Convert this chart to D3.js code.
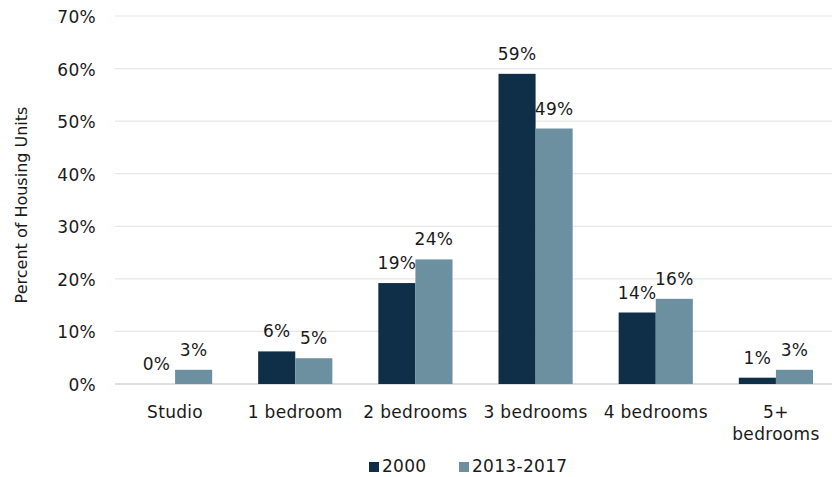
<!DOCTYPE html>
<html>
<head>
<meta charset="utf-8">
<script src="https://cdn.jsdelivr.net/npm/d3@7"></script>
<style>
  body { margin: 0; background: #fff; }
  svg { display: block; }
  text { font-family: "DejaVu Sans", sans-serif; fill: #1a1a1a; }
</style>
</head>
<body>
<svg id="chart" width="832" height="477"></svg>
<script>
const categories = ["Studio", "1 bedroom", "2 bedrooms", "3 bedrooms", "4 bedrooms", "5+ bedrooms"];
const seriesNames = ["2000", "2013-2017"];
const values2000 = [0, 6.2, 19.2, 59.0, 13.6, 1.2];
const values2013 = [2.7, 4.9, 23.7, 48.6, 16.2, 2.7];
const yTicks = [0, 10, 20, 30, 40, 50, 60, 70];
const colors = ["#0f2e47", "#6d90a0"];

const FONT = "DejaVu Sans, sans-serif";
const FS = "17px";
const LS = "0.3px";
const svg = d3.select("#chart");
const margin = { left: 115, right: -4, top: 16, bottom: 93 };
const W = 832, H = 477;

const x0 = d3.scaleBand().domain(categories).range([margin.left, W - margin.right]).paddingInner(0).paddingOuter(0);
const x1 = d3.scaleBand().domain(seriesNames).range([0, x0.bandwidth()]).paddingInner(0).paddingOuter(0.62);
const y = d3.scaleLinear().domain([0, 70]).range([H - margin.bottom, margin.top]);

// gridlines
svg.append("g").selectAll("line").data(yTicks).join("line")
  .attr("x1", margin.left).attr("x2", W)
  .attr("y1", d => y(d)).attr("y2", d => y(d))
  .attr("stroke", d => d === 0 ? "#d4d4d4" : "#e6e6e6")
  .attr("stroke-width", d => d === 0 ? 1.5 : 1.2);

// y axis labels
const yAxis = d3.axisLeft(y).tickValues(yTicks).tickFormat(d => d + "%").tickSize(0).tickPadding(0);
const yg = svg.append("g").attr("transform", `translate(${margin.left - 19},0)`).call(yAxis);
yg.select(".domain").remove();
yg.selectAll("text").style("font-size", FS).style("letter-spacing", LS).attr("fill", "#1a1a1a")
  .attr("font-family", FONT).attr("dy", "0.38em");

// y title
svg.append("text")
  .attr("transform", `translate(27, ${(y(0) + y(70)) / 2 + 5}) rotate(-90)`)
  .attr("text-anchor", "middle").style("font-size", "16px")
  .text("Percent of Housing Units");

// bars
const data = categories.map((c, i) => ({ cat: c, vals: [values2000[i], values2013[i]] }));
const groups = svg.append("g").selectAll("g").data(data).join("g")
  .attr("transform", d => `translate(${x0(d.cat)},0)`);

groups.selectAll("rect").data(d => d.vals.map((v, j) => ({ v, s: seriesNames[j], j }))).join("rect")
  .attr("x", d => x1(d.s))
  .attr("width", x1.bandwidth())
  .attr("y", d => y(d.v))
  .attr("height", d => y(0) - y(d.v))
  .attr("fill", d => colors[d.j]);

groups.selectAll("text.lbl").data(d => d.vals.map((v, j) => ({ v, s: seriesNames[j], j }))).join("text")
  .attr("class", "lbl")
  .attr("x", d => x1(d.s) + x1.bandwidth() / 2)
  .attr("y", d => y(d.v) - 14)
  .attr("text-anchor", "middle").style("font-size", FS).style("letter-spacing", LS)
  .text(d => Math.round(d.v) + "%");

// x axis labels
const xAxis = d3.axisBottom(x0).tickSize(0).tickPadding(0);
const xg = svg.append("g").attr("transform", `translate(0,${y(0)})`).call(xAxis);
xg.select(".domain").remove();
xg.selectAll("text").remove();
xg.selectAll(".tick").each(function(d) {
  const t = d3.select(this).append("text")
    .attr("text-anchor", "middle").style("font-size", FS).style("letter-spacing", LS)
    .attr("fill", "#1a1a1a").attr("font-family", FONT);
  if (d === "5+ bedrooms") {
    t.append("tspan").attr("x", 0).attr("y", 34).text("5+");
    t.append("tspan").attr("x", 0).attr("y", 56).text("bedrooms");
  } else {
    t.attr("y", 34).text(d);
  }
});

// legend
const legend = svg.append("g");
const legendItems = [{ name: seriesNames[0], x: 369 }, { name: seriesNames[1], x: 459 }];
legendItems.forEach((it, i) => {
  legend.append("rect").attr("x", it.x).attr("y", 462).attr("width", 10).attr("height", 10).attr("fill", colors[i]);
  legend.append("text").attr("x", it.x + 13).attr("y", 472).style("font-size", FS).style("letter-spacing", LS).text(it.name);
});
</script>
</body>
</html>
